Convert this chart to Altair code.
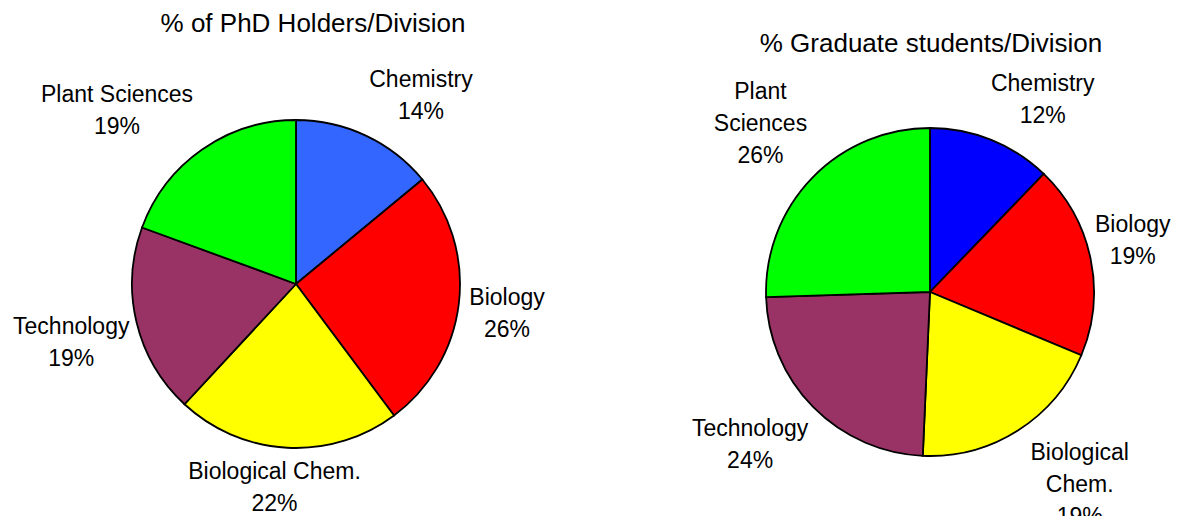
import altair as alt
import pandas as pd

FONT = "Liberation Sans"

# Left pie: % of PhD holders per division
left_title = "% of PhD Holders/Division"
left_names = ["Chemistry", "Biology", "Biological Chem.", "Technology", "Plant Sciences"]
left_values = [14.0, 25.8, 22.1, 18.7, 19.4]

# Right pie: % graduate students per division
right_title = "% Graduate students/Division"
right_names = ["Chemistry", "Biology", "Biological\nChem.", "Technology", "Plant\nSciences"]
right_values = [12.2, 19.1, 19.4, 23.8, 25.5]

divisions = ["Chemistry", "Biology", "Biological Chem.", "Technology", "Plant Sciences"]
left_colors = ["#3366FF", "#FF0000", "#FFFF00", "#993366", "#00FF00"]
right_colors = ["#0000FF", "#FF0000", "#FFFF00", "#993366", "#00FF00"]

W, H = 1165, 508
PIE_R = 164
LABEL_SIZE = 23
TITLE_SIZE = 26
LINE_H = 32
GAP = 8


def make_df(names, values):
    labels = [f"{n}\n{int(v + 0.5)}%" for n, v in zip(names, values)]
    return pd.DataFrame({
        "division": divisions,
        "value": values,
        "order": list(range(len(values))),
        "label": labels,
        "nchars": [max(len(s) for s in l.split("\n")) for l in labels],
        "nlines": [len(l.split("\n")) for l in labels],
    })


def pie(df, colors, cx, cy):
    base = alt.Chart(df)
    arcs = base.mark_arc(radius=PIE_R, stroke="black", strokeWidth=1.8).encode(
        theta=alt.Theta("value:Q", stack=True),
        order=alt.Order("order:Q"),
        color=alt.Color("division:N", scale=alt.Scale(domain=divisions, range=colors), legend=None),
        x=alt.value(cx),
        y=alt.value(cy),
    )
    # Excel-style outside labels: the label box touches the point just outside
    # the slice's mid-angle, on the side facing away from the pie.
    labels = base.transform_joinaggregate(
        total="sum(value)"
    ).transform_window(
        cum="sum(value)", sort=[alt.SortField("order")], frame=[None, 0]
    ).transform_calculate(
        mid="(datum.cum - datum.value / 2) / datum.total * 2 * PI",
        halfw=f"datum.nchars * 0.5 * {LABEL_SIZE} / 2",
        halfh=f"datum.nlines * {LINE_H} / 2",
    ).transform_calculate(
        lx0=f"{cx} + {PIE_R + GAP} * sin(datum.mid) + datum.halfw * clamp(sin(datum.mid) * 2.5, -1, 1)",
        ly=(f"{cy} - {PIE_R + GAP} * cos(datum.mid) - datum.halfh * clamp(cos(datum.mid) * 2.5, -1, 1)"
            f" - (datum.nlines - 1) * {LINE_H} / 2"),
    ).transform_calculate(
        lx=f"clamp(datum.lx0, datum.halfw, {W} - datum.halfw)"
    ).mark_text(
        font=FONT, fontSize=LABEL_SIZE, lineBreak="\n", lineHeight=LINE_H,
        align="center", baseline="middle", color="black",
    ).encode(
        x=alt.X("lx:Q", scale=None, axis=None),
        y=alt.Y("ly:Q", scale=None, axis=None),
        text="label:N",
    )
    return arcs, labels


def title_mark(text, x, y):
    return alt.Chart(pd.DataFrame({"t": [text]})).mark_text(
        font=FONT, fontSize=TITLE_SIZE, align="center", baseline="middle", color="black"
    ).encode(text="t:N", x=alt.value(x), y=alt.value(y))


l_arcs, l_labels = pie(make_df(left_names, left_values), left_colors, 288, 276)
r_arcs, r_labels = pie(make_df(right_names, right_values), right_colors, 922, 284)

chart = (
    alt.layer(
        l_arcs, l_labels, r_arcs, r_labels,
        title_mark(left_title, 305, 16),
        title_mark(right_title, 923, 36),
    )
    .resolve_scale(color="independent", theta="independent")
    .properties(width=W, height=H, padding=0, autosize=alt.AutoSizeParams(type="none"))
    .configure_view(stroke=None)
)

chart.save("out.html", embed_options={"renderer": "svg", "actions": False})
